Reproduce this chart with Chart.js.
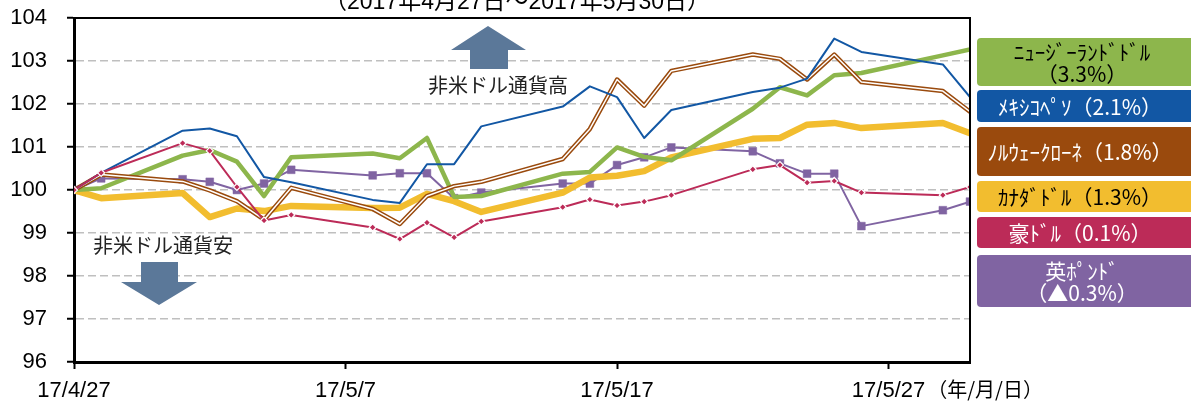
<!DOCTYPE html>
<html><head><meta charset="utf-8">
<script src="https://cdn.jsdelivr.net/npm/chart.js@4.4.0/dist/chart.umd.min.js"></script>
<style>html,body{margin:0;padding:0;background:#fff;overflow:hidden}#wrap{width:1191px;height:403px;position:relative}</style>
</head><body><div id="wrap"><canvas id="c" width="1191" height="403"></canvas></div>
<script>
const dates = ["2017-04-27","2017-04-28","2017-05-01","2017-05-02","2017-05-03","2017-05-04","2017-05-05",
  "2017-05-08","2017-05-09","2017-05-10","2017-05-11","2017-05-12","2017-05-15","2017-05-16","2017-05-17",
  "2017-05-18","2017-05-19","2017-05-22","2017-05-23","2017-05-24","2017-05-25","2017-05-26","2017-05-29","2017-05-30"];
const tickDates = ["2017-04-27","2017-05-07","2017-05-17","2017-05-27"];
const tickLabels = ["17/4/27","17/5/7","17/5/17","17/5/27"];
const unitLabel = "（年/月/日）";
const titleText = "（2017年4月27日～2017年5月30日）";
const upText = "非米ドル通貨高";
const downText = "非米ドル通貨安";

const nzd = [100,100.04,100.80,100.93,100.66,99.86,100.76,100.85,100.74,101.21,99.84,99.86,100.38,100.42,100.99,100.77,100.69,101.89,102.39,102.20,102.67,102.72,103.13,103.27];
const mxn = [100,100.40,101.38,101.43,101.25,100.30,100.18,99.77,99.70,100.60,100.60,101.48,101.94,102.41,102.16,101.21,101.86,102.28,102.38,102.59,103.52,103.21,102.92,102.16];
const nok = [100,100.36,100.20,99.99,99.74,99.31,100.05,99.56,99.21,99.86,100.09,100.19,100.72,101.42,102.57,101.96,102.77,103.15,103.05,102.57,103.15,102.51,102.30,101.82];
const cad = [100,99.81,99.93,99.37,99.57,99.51,99.63,99.58,99.59,99.91,99.74,99.49,99.94,100.29,100.33,100.44,100.76,101.19,101.21,101.52,101.56,101.44,101.56,101.32];
const aud = [100,100.40,101.09,100.91,100.07,99.29,99.42,99.13,98.86,99.24,98.90,99.27,99.60,99.78,99.64,99.73,99.88,100.48,100.58,100.17,100.21,99.94,99.88,100.07];
const gbp = [100,100.27,100.25,100.19,100.00,100.15,100.47,100.34,100.39,100.39,99.81,99.94,100.15,100.15,100.58,100.76,100.99,100.90,100.62,100.38,100.38,99.16,99.53,99.73];

const legendNZD = ["ﾆｭｰｼﾞｰﾗﾝﾄﾞﾄﾞﾙ","（3.3%）"];
const legendMXN = ["ﾒｷｼｺﾍﾟｿ（2.1%）"];
const legendNOK = ["ﾉﾙｳｪｰｸﾛｰﾈ（1.8%）"];
const legendCAD = ["ｶﾅﾀﾞﾄﾞﾙ（1.3%）"];
const legendAUD = ["豪ﾄﾞﾙ（0.1%）"];
const legendGBP = ["英ﾎﾟﾝﾄﾞ","（▲0.3%）"];

const C = {green:'#8DB64C', blue:'#1257A4', brown:'#9A4A0D', yellow:'#F2BD2F', red:'#BC2B58', purple:'#8064A2', arrow:'#5B7899'};

const DAY = 86400000;
const dayOf = d => (Date.parse(d) - Date.parse(dates[0])) / DAY;
const pts = arr => arr.map((v,i)=>({x: dayOf(dates[i]), y: v}));

const base = {fill:false, tension:0, borderJoinStyle:'round', borderCapStyle:'round', pointRadius:0, pointHoverRadius:0};
const datasets = [
  Object.assign({}, base, {label:'豪ドル', data:pts(aud), borderColor:C.red, borderWidth:2,
    pointRadius:3.5, pointStyle:'rectRot', pointBackgroundColor:C.red, pointBorderColor:'#fff', pointBorderWidth:1.2}),
  Object.assign({}, base, {label:'メキシコペソ', data:pts(mxn), borderColor:C.blue, borderWidth:2}),
  Object.assign({}, base, {label:'nok-inner', data:pts(nok), borderColor:'#fff', borderWidth:1.5}),
  Object.assign({}, base, {label:'ノルウェークローネ', data:pts(nok), borderColor:C.brown, borderWidth:4.5}),
  Object.assign({}, base, {label:'ニュージーランドドル', data:pts(nzd), borderColor:C.green, borderWidth:4.5}),
  Object.assign({}, base, {label:'カナダドル', data:pts(cad), borderColor:C.yellow, borderWidth:6.5}),
  Object.assign({}, base, {label:'英ポンド', data:pts(gbp), borderColor:C.purple, borderWidth:2,
    pointRadius:5.5, pointStyle:'rect', pointBackgroundColor:C.purple, pointBorderColor:C.purple, pointBorderWidth:0.5})
];

function poly(ctx, p){ ctx.beginPath(); ctx.moveTo(p[0][0],p[0][1]); for(let i=1;i<p.length;i++) ctx.lineTo(p[i][0],p[i][1]); ctx.closePath(); ctx.fill(); }

const legendItems = [
  {lines:legendNZD, color:C.green, text:'#000', y0:38, y1:86},
  {lines:legendMXN, color:C.blue, text:'#fff', y0:90, y1:122},
  {lines:legendNOK, color:C.brown, text:'#fff', y0:127, y1:176},
  {lines:legendCAD, color:C.yellow, text:'#000', y0:181, y1:212},
  {lines:legendAUD, color:C.red, text:'#fff', y0:217, y1:248},
  {lines:legendGBP, color:C.purple, text:'#fff', y0:255, y1:307}
];

const overlay = {
  id:'overlay',
  afterDraw(chart){
    const {ctx, chartArea:a} = chart;
    ctx.save();
    ctx.strokeStyle='#000'; ctx.lineWidth=2;
    ctx.beginPath(); ctx.moveTo(a.left, a.top); ctx.lineTo(a.right, a.top); ctx.lineTo(a.right, a.bottom); ctx.stroke();
    // title (partially cut off at top)
    ctx.fillStyle='#000'; ctx.font="23px 'Liberation Sans','Noto Sans CJK JP'"; ctx.textAlign='center'; ctx.textBaseline='alphabetic';
    ctx.fillText(titleText, 517, 9);
    // arrows
    ctx.fillStyle=C.arrow;
    poly(ctx, [[488,26],[526,50],[508,50],[508,69],[470,69],[470,50],[451,50]]);
    poly(ctx, [[141,262],[178,262],[178,282],[197,282],[159,305],[121,282],[141,282]]);
    ctx.fillStyle='#222'; ctx.font="20px 'Noto Sans CJK JP'"; ctx.textBaseline='middle'; ctx.textAlign='center';
    ctx.fillText(upText, 498, 85);
    ctx.fillText(downText, 163, 245);
    // unit label
    const xs = chart.scales.x;
    ctx.font="22px 'Liberation Sans'";
    const lw = ctx.measureText(tickLabels[3]).width;
    const tx = xs.getPixelForValue(dayOf(tickDates[3]));
    ctx.font="20px 'Noto Sans CJK JP'"; ctx.textAlign='left'; ctx.fillStyle='#000';
    ctx.fillText(unitLabel, tx + lw/2 + 2, 389);
    // legend boxes
    legendItems.forEach(it=>{
      ctx.fillStyle=it.color;
      ctx.beginPath(); ctx.roundRect(977, it.y0, 230, it.y1-it.y0, 4); ctx.fill();
      ctx.fillStyle=it.text; ctx.font="21px 'Noto Sans CJK JP'"; ctx.textAlign='center'; ctx.textBaseline='middle';
      const cy=(it.y0+it.y1)/2;
      if(it.lines.length===1) ctx.fillText(it.lines[0], 1080, cy+1);
      else { ctx.fillText(it.lines[0], 1082, cy-10); ctx.fillText(it.lines[1], 1082, cy+12); }
    });
    ctx.restore();
  }
};

new Chart(document.getElementById('c'), {
  type:'line',
  data:{datasets},
  options:{
    responsive:false, animation:false, devicePixelRatio:1,
    layout:{padding:{top:18, right:221, left:0, bottom:0}},
    plugins:{legend:{display:false}, tooltip:{enabled:false}, title:{display:false}},
    scales:{
      x:{type:'linear', min:0, max:dayOf(dates[dates.length-1]),
        afterBuildTicks: s => { s.ticks = tickDates.map(d=>({value: dayOf(d)})); },
        afterFit: s => { s.height = 41; s.paddingLeft = 0; s.paddingRight = 0; },
        ticks:{autoSkip:false, maxRotation:0, minRotation:0, padding:9, color:'#000',
          font:{family:"'Liberation Sans'", size:22},
          callback: v => { const i = tickDates.findIndex(d=>dayOf(d)===v); return i>=0 ? tickLabels[i] : ''; }},
        grid:{drawOnChartArea:false, drawTicks:true, tickLength:7, tickColor:'#000', tickWidth:2},
        border:{color:'#000', width:3}
      },
      y:{min:96, max:104,
        afterFit: s => { s.width = 74; s.paddingTop = 0; s.paddingBottom = 0; },
        ticks:{stepSize:1, padding:20, color:'#000', font:{family:"'Liberation Sans'", size:22}},
        grid:{color: c => (c.tick && (c.tick.value===96 || c.tick.value===104)) ? 'rgba(0,0,0,0)' : '#BFBFBF',
          lineWidth:1.5, drawTicks:true, tickLength:7, tickColor:'#000', tickWidth:2},
        border:{color:'#000', width:3, dash:[8,4]}
      }
    }
  },
  plugins:[overlay]
});
</script></body></html>
